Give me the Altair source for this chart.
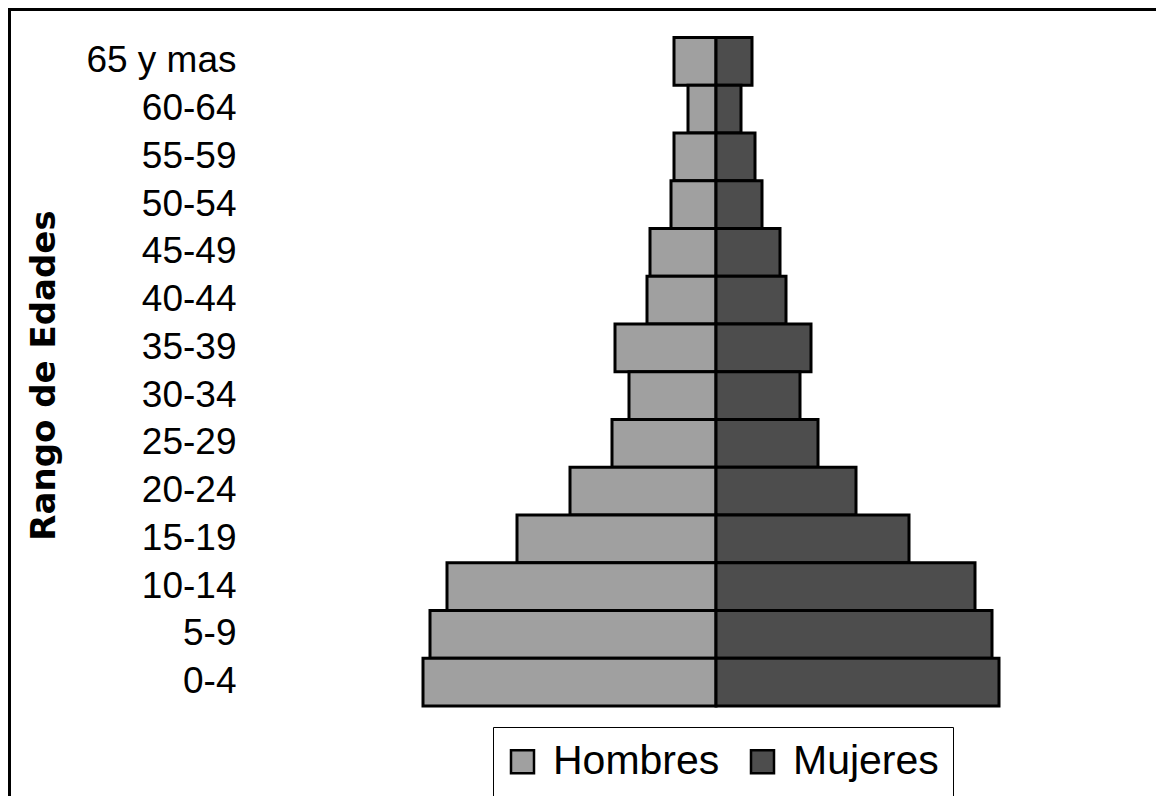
import altair as alt
import pandas as pd

ages = ["65 y mas", "60-64", "55-59", "50-54", "45-49", "40-44", "35-39",
        "30-34", "25-29", "20-24", "15-19", "10-14", "5-9", "0-4"]
hombres = [42, 28, 42, 45, 66, 69, 101, 87, 104, 146, 199, 269, 286, 293]
mujeres = [36, 25, 39, 46, 64, 70, 95, 84, 102, 140, 193, 259, 276, 283]
sexes = ["Hombres", "Mujeres"]
colors = ["#a0a0a0", "#4d4d4d"]

rows = []
for a, h, m in zip(ages, hombres, mujeres):
    rows.append({"Edad": a, "Sexo": "Hombres", "Valor": -h})
    rows.append({"Edad": a, "Sexo": "Mujeres", "Valor": m})
df = pd.DataFrame(rows)

W, H = 1148, 788

bars = alt.Chart(df).mark_bar(stroke="black", strokeWidth=3, opacity=1).encode(
    x=alt.X("Valor:Q", scale=alt.Scale(domain=[-708, 440], nice=False, zero=False), axis=None),
    y=alt.Y(
        "Edad:N", sort=ages,
        scale=alt.Scale(range=[29.5, 698], paddingInner=0, paddingOuter=0),
        axis=alt.Axis(
            title="Rango de Edades", orient="left", offset=-228, ticks=False, domain=False,
            labelPadding=0, labelFont="Liberation Sans", labelFontSize=37, labelColor="black",
            labelAlign="right", labelBaseline="middle",
            titleFont="DejaVu Sans", titleFontSize=34, titleFontWeight="bold", titleColor="black",
            titleAngle=270, titleX=-192, titleY=367, titleAlign="center", titleBaseline="middle",
        ),
    ),
    color=alt.Color(
        "Sexo:N", scale=alt.Scale(domain=sexes, range=colors),
        legend=alt.Legend(
            title=None, orient="none", legendX=485, legendY=719, direction="horizontal",
            strokeColor="black", fillColor="white", padding=14,
            symbolType="square", symbolSize=529, symbolStrokeColor="black",
            symbolStrokeWidth=2.5, symbolOpacity=1, symbolOffset=-5,
            labelFont="Liberation Sans", labelFontSize=41, labelColor="black",
            labelOffset=10, columnPadding=26, labelLimit=400,
        ),
    ),
)

border_df = pd.DataFrame({"k": [0]})
left = alt.Chart(border_df).mark_rule(color="black", strokeWidth=3).encode(
    x=alt.value(1.5), y=alt.value(0), y2=alt.value(H))
top = alt.Chart(border_df).mark_rule(color="black", strokeWidth=3).encode(
    y=alt.value(1.5), x=alt.value(0), x2=alt.value(W))

chart = alt.layer(bars, left, top).properties(
    width=W, height=H, padding=0, autosize=alt.AutoSizeParams(type="none")
).configure_view(stroke=None)

chart.save("out.html", embed_options={"renderer": "svg", "actions": False})
